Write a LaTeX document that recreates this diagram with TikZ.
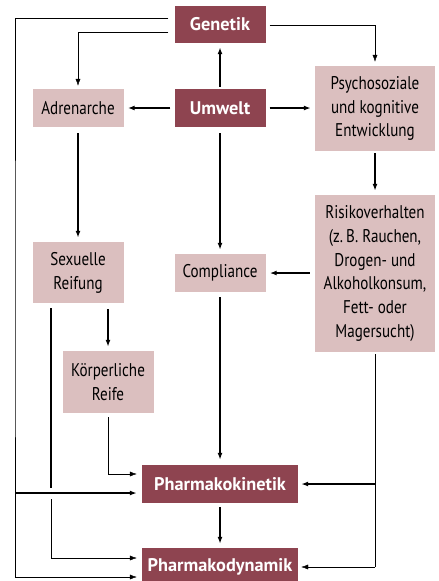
\documentclass[tikz,border=0pt]{standalone}
\usepackage{fontspec}
\setmainfont{PT Sans}[FakeStretch=0.82]
\newfontfamily\boldfam{PT Sans Bold}
\usetikzlibrary{arrows.meta,calc}
\definecolor{dark}{RGB}{142,68,80}
\definecolor{light}{RGB}{219,191,191}
\definecolor{thin}{RGB}{60,60,60}
\begin{document}
\begin{tikzpicture}[x=1pt,y=-1pt,
  lbox/.style={fill=light,inner sep=0pt,align=center,font=\fontsize{18.4}{23.8}\selectfont},
  dbox/.style={fill=dark,text=white,inner sep=0pt,align=center,font=\fontsize{18.3}{23.5}\boldfam},
  thk/.style={line width=1.6pt,black},
  thn/.style={line width=0.9pt,thin},
  arr/.style={-{Latex[length=7pt,width=5pt]}}]
\useasboundingbox[clip] (0,0) rectangle (439,581);
\fill[white] (0,0) rectangle (439,581);
\node[dbox,minimum width=91pt,minimum height=37pt] (gen) at (220,24.5) {Genetik};
\node[dbox,minimum width=91pt,minimum height=38pt] (umw) at (220,108) {Umwelt};
\node[lbox,minimum width=91pt,minimum height=38pt] (adr) at (78,108) {Adrenarche};
\node[lbox,minimum width=120pt,minimum height=85pt] (psy) at (375,108.5) {Psychosoziale\\und kognitive\\Entwicklung};
\node[lbox,minimum width=120pt,minimum height=157pt] (ris) at (375,273.5) {Risikoverhalten\\(z.\,B. Rauchen,\\Drogen- und\\Alkoholkonsum,\\Fett- oder\\Magersucht)};
\node[lbox,minimum width=91pt,minimum height=61pt] (sex) at (78,272.5) {Sexuelle\\Reifung};
\node[lbox,minimum width=91pt,minimum height=38pt] (com) at (220,273) {Compliance};
\node[lbox,minimum width=91pt,minimum height=62pt] (kor) at (108,382) {Körperliche\\Reife};
\node[dbox,minimum width=156pt,minimum height=38pt] (pk) at (220,484) {Pharmakokinetik};
\node[dbox,minimum width=156pt,minimum height=38pt] (pd) at (220,567) {Pharmakodynamik};
\coordinate (L) at (15,300);
\coordinate (S) at (51,400);
\coordinate (R) at (375,500);
% Genetik outer left loop to Pharmakodynamik
\draw[thn,arr,shorten <=6pt,shorten >=5pt] ([yshift=6.5pt]gen.west) -| (L) |- ([yshift=-10pt]pd.west);
% Genetik -> Adrenarche
\draw[thn,arr,shorten <=6pt,shorten >=3pt] ([yshift=-7.5pt]gen.west) -| (adr.north);
% Genetik -> Psychosoziale
\draw[thn,arr,shorten <=4pt,shorten >=4pt] ([yshift=-0.5pt]gen.east) -| (psy.north);
% Umwelt
\draw[thk,arr,shorten <=2pt,shorten >=4pt] (umw.north) -- (gen.south);
\draw[thk,arr,shorten <=4pt,shorten >=4pt] (umw.west) -- (adr.east);
\draw[thk,arr,shorten <=4pt,shorten >=4pt] (umw.east) -- (psy.west |- umw.east);
\draw[thk,arr,shorten <=6pt,shorten >=4pt] (umw.south) -- (com.north);
% Adrenarche -> Sexuelle Reifung
\draw[thk,arr,shorten <=6pt,shorten >=4pt] (adr.south) -- (sex.north);
% Psychosoziale -> Risikoverhalten
\draw[thk,arr,shorten <=2pt,shorten >=4pt] (psy.south) -- (ris.north);
% Risikoverhalten -> Compliance
\draw[thk,arr,shorten <=5pt,shorten >=4pt] (ris.west |- com.east) -- (com.east);
% Sexuelle Reifung -> Koerperliche Reife
\draw[thk,arr,shorten <=6pt,shorten >=4pt] (kor.north |- sex.south) -- (kor.north);
% Sexuelle Reifung down (bridged) -> Pharmakodynamik
\path ([yshift=-9pt]pk.west) coordinate (pkw);
\draw[thk,shorten <=5pt,shorten >=5pt] (S |- sex.south) -- (S |- pkw);
\draw[thn,arr,shorten <=6pt,shorten >=5pt] (S |- pkw) |- ([yshift=9pt]pd.west);
% outer left -> Pharmakokinetik
\draw[thk,arr,shorten >=5pt] (L |- pkw) -- (pkw);
% Koerperliche Reife -> Pharmakokinetik
\draw[thn,arr,shorten <=4pt,shorten >=5pt] (kor.south) |- ([yshift=10pt]pk.west);
% Compliance -> Pharmakokinetik -> Pharmakodynamik
\draw[thk,arr,shorten <=5pt,shorten >=5pt] (com.south) -- (pk.north);
\draw[thk,arr,shorten <=4pt,shorten >=4pt] (pk.south) -- (pd.north);
% Risikoverhalten -> Pharmakokinetik / Pharmakodynamik
\draw[thn,shorten <=2pt] (ris.south) -- (R |- pd.east);
\draw[thn,arr,shorten >=3pt] (R |- pd.east) -- (pd.east);
\draw[thk,arr,shorten >=3pt] (R |- pk.east) -- (pk.east);
\end{tikzpicture}
\end{document}
